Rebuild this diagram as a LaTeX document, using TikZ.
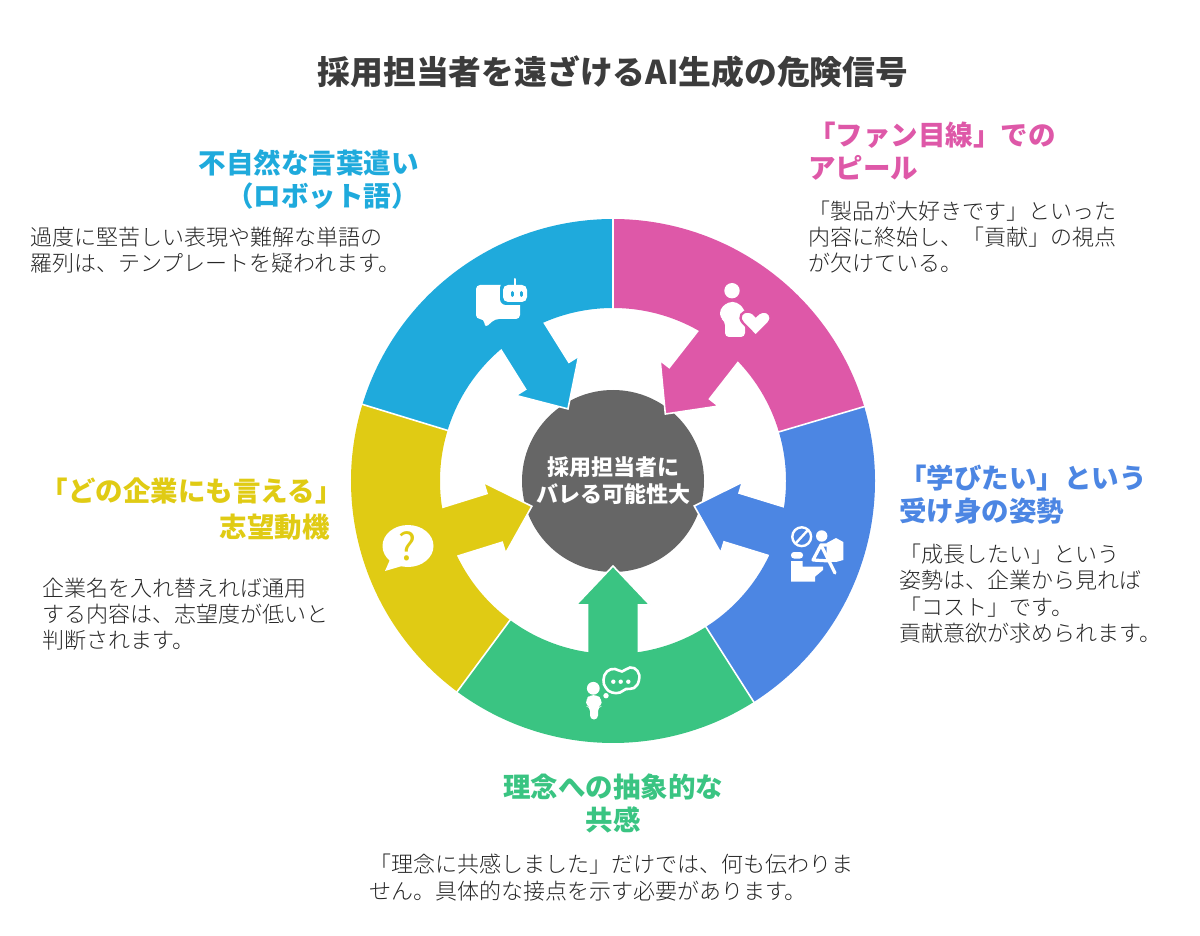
\documentclass[tikz,border=0pt]{standalone}
\usepackage{fontspec}
\setmainfont{Noto Sans CJK JP}
\newfontfamily\lightfont{Noto Sans CJK JP Light}
\usepackage{xcolor}
\usetikzlibrary{positioning}

\definecolor{robotblue}{HTML}{1FAADC}
\definecolor{fanpink}{HTML}{DE58A8}
\definecolor{learnblue}{HTML}{4C86E3}
\definecolor{visiongreen}{HTML}{3AC482}
\definecolor{motiveyellow}{HTML}{E0CB14}
\definecolor{coregray}{HTML}{666666}
\definecolor{inkgray}{HTML}{3C3C3C}
\definecolor{bodygray}{HTML}{262626}

\begin{document}
\begin{tikzpicture}
      [ x=0.5pt, y=-0.5pt, inner sep=0pt, node distance=12pt,
        titletext/.style={font=\bfseries\fontsize{16.4}{20}\selectfont, text=inkgray},
        headtext/.style={font=\bfseries\fontsize{13.75}{16.5}\selectfont},
        bodytext/.style={font=\lightfont\fontsize{11}{13.2}\selectfont, text=bodygray, align=left},
        icon/.style={fill=white, draw=none},
        iconline/.style={draw=white, line width=1pt, line cap=round}
      ]
      \useasboundingbox (0,0) rectangle (1200,936);

      % centre disk, arrows below the ring parts
      \node[circle, fill=coregray, minimum size=91pt, text=white, align=center,
            font=\bfseries\fontsize{11}{13.5}\selectfont] (core) at (613,481)
            {採用担当者に\\バレる可能性大};

      \begin{scope}[shift={(613,481)}, x=0.5pt, y=0.5pt]
        \foreach \from/\to/\dir/\col in {16.5/90/52/fanpink, 90/163/122/robotblue,
                                         163/233.5/197.3/motiveyellow, 233.5/302.5/-90/visiongreen,
                                         302.5/376.5/-17.1/learnblue} {
          \fill[\col, draw=white, line width=0.8pt, rotate=\dir]
            (85,0) -- (124,37) -- (124,25.5) -- (200,25.5) -- (200,-25.5) -- (124,-25.5) -- (124,-37) -- cycle;
          \fill[\col] (\from:262) arc[start angle=\from, end angle=\to, radius=262]
            -- (\to:173) arc[start angle=\to, end angle=\from, radius=173] -- cycle;
        }
        \foreach \gap in {16.5,90,163,233.5,302.5}
          \draw[white, line width=0.8pt] (\gap:170) -- (\gap:265);
      \end{scope}

      % robot chat icon
      \fill[icon, rounded corners=2pt] (476,285) -- (520,285) -- (520,319) -- (495,319)
        -- (485,328) -- (484,319) -- (476,319) -- cycle;
      \fill[robotblue, rounded corners=3pt] (500,282) rectangle (530,305);
      \fill[icon, rounded corners=2.5pt] (503,285) rectangle (527,302);
      \draw[iconline] (515,279) -- (515,286);
      \draw[robotblue, line width=1.5pt, line cap=round] (512,292.5) -- (512,295.5);
      \draw[robotblue, line width=1.5pt, line cap=round] (521,292.5) -- (521,295.5);

      % fan icon
      \fill[icon] (732,290.7) circle (3.85pt);
      \fill[icon, rounded corners=2pt] (725,337) -- (725,321) -- (720,318) -- (720,309)
        -- (728,302) -- (737,302) -- (745,310) -- (745,337) -- cycle;
      \fill[white, draw=fanpink, line width=1.2pt] (755.7,336) -- (743,323)
        .. controls (737,316) and (743,311) .. (748,311.5)
        .. controls (752,312) and (754.5,314) .. (755.7,316)
        .. controls (757,314) and (760,312) .. (763,311.5)
        .. controls (768,311) and (774,316) .. (768.5,323) -- cycle;

      % no-go learner icon
      \draw[white, line width=1.2pt] (801.7,536.7) circle (4.7pt);
      \draw[white, line width=1.2pt] (796,543) -- (807.5,530.5);
      \fill[icon] (821.7,536) circle (2.85pt);
      \fill[icon, rounded corners=1.5pt] (791,552) rectangle (803,558.5);
      \fill[icon] (791,561) -- (802.7,561) -- (802.7,566.7) -- (823,566.7) -- (823,570)
        -- (815,576.7) -- (815,581.7) -- (791,581.7) -- cycle;
      \fill[icon] (826.7,543) -- (836,538) -- (843.3,542) -- (843.3,560) -- (836,562) -- (826.7,561.7) -- cycle;
      \draw[iconline, line width=1.6pt, line join=round] (830,561) -- (813,560) -- (821,545) -- (829,545);
      \draw[iconline, line width=1.6pt] (821,545) -- (835,573);

      % thinking person icon
      \fill[icon] (593.3,688.3) circle (3.2pt);
      \fill[icon, rounded corners=2pt] (590,719.5) -- (590,707) -- (586,706) -- (586,699)
        -- (590,695) -- (597,695) -- (601.7,699) -- (601.7,706) -- (598,707) -- (598,719.5) -- cycle;
      \fill[icon] (606,695.7) circle (1.35pt);
      \draw[white, line width=1.3pt] plot[smooth cycle, tension=0.8] coordinates
        {(603.5,680) (607,671.5) (615,669) (622,671.5) (630,667.5) (637.5,671)
         (639,680) (634,688) (626,689) (620,692.5) (612,692.5) (606,688)};
      \foreach \dotx in {613.3,620.7,628.3}
        \fill[icon] (\dotx,681.7) circle (1.1pt);

      % question bubble icon
      \fill[icon] (408,546) ellipse (12.75pt and 10.5pt);
      \fill[icon] (392,555) -- (385,571) -- (402,566) -- cycle;
      \node[text=motiveyellow, font=\fontsize{19}{19}\selectfont] (quest) at (408,546) {?};

      % texts
      \node[titletext] (title) at (613,72) {採用担当者を遠ざけるAI生成の危険信号};

      \node[headtext, text=robotblue, align=right, anchor=north east] (robothead) at (419,149)
           {不自然な言葉遣い\\（ロボット語）};
      \node[bodytext] (robotbody) [below=8.5pt of robothead.south west, anchor=north west, xshift=-84pt]
           {過度に堅苦しい表現や難解な単語の\\羅列は、テンプレートを疑われます。};

      \node[headtext, text=fanpink, align=left, anchor=north west] (fanhead) at (808,122)
           {「ファン目線」での\\アピール};
      \node[bodytext] (fanbody) [below=9.5pt of fanhead.south west, anchor=north west]
           {「製品が大好きです」といった\\内容に終始し、「貢献」の視点\\が欠けている。};

      \node[headtext, text=learnblue, align=left, anchor=north west] (learnhead) at (899,464.5)
           {「学びたい」という\\受け身の姿勢};
      \node[bodytext] (learnbody) [below=9.5pt of learnhead.south west, anchor=north west]
           {「成長したい」という\\姿勢は、企業から見れば\\「コスト」です。\\貢献意欲が求められます。};

      \node[headtext, text=motiveyellow, align=right, anchor=north east,
            font=\bfseries\fontsize{13.75}{18}\selectfont] (motivehead) at (330,477)
           {「どの企業にも言える」\kern-6.5pt\\志望動機};
      \node[bodytext] (motivebody) [below=18.5pt of motivehead.south west, anchor=north west, xshift=0.75pt]
           {企業名を入れ替えれば通用\\する内容は、志望度が低いと\\判断されます。};

      \node[headtext, text=visiongreen, align=center, anchor=north] (visionhead) at (613,773)
           {理念への抽象的な\\共感};
      \node[bodytext] (visionbody) [below=10.5pt of visionhead.south, anchor=north, xshift=-1pt]
           {「理念に共感しました」だけでは、何も伝わりま\\せん。具体的な接点を示す必要があります。};

\end{tikzpicture}
\end{document}
